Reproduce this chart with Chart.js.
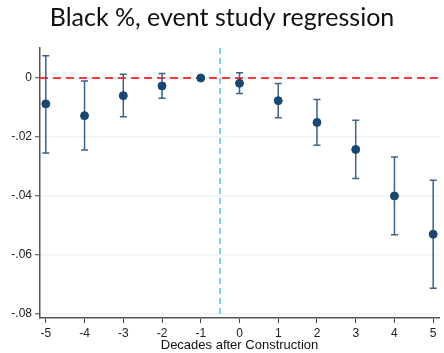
<!DOCTYPE html>
<html>
<head>
<meta charset="utf-8">
<script src="https://cdn.jsdelivr.net/npm/chart.js@4/dist/chart.umd.min.js"></script>
<style>
    html, body { margin: 0; padding: 0; background: #fff; }
    #wrap { width: 444px; height: 353px; }
</style>
</head>
<body>
<div id="wrap"><canvas id="grafico"></canvas></div>
<script>
// coeficientes por decada (decada -1 es la referencia)
let decadas = [-5, -4, -3, -2, -1, 0, 1, 2, 3, 4, 5]
let coef = [-0.0088, -0.0128, -0.0060, -0.0027, 0, -0.0018, -0.0077, -0.0151, -0.0243, -0.0401, -0.0531]
let ciBajo = [-0.0255, -0.0245, -0.0132, -0.0069, null, -0.0053, -0.0135, -0.0229, -0.0342, -0.0533, -0.0715]
let ciAlto = [0.0076, -0.0010, 0.0013, 0.0015, null, 0.0018, -0.0019, -0.0073, -0.0144, -0.0269, -0.0348]
let yTicks = [0, -0.02, -0.04, -0.06, -0.08]
let yTickLabels = ['0', '-.02', '-.04', '-.06', '-.08']
let lineaCero = 0
let lineaEvento = -0.5

// barras de error y lineas de referencia
const extras = {
    id: 'extras',
    beforeDatasetsDraw(chart) {
        const ctx = chart.ctx
        const x = chart.scales.x
        const y = chart.scales.y
        const area = chart.chartArea
        ctx.save()
        // linea horizontal en cero
        ctx.strokeStyle = '#ff3a3a'
        ctx.lineWidth = 2
        ctx.setLineDash([8, 5])
        let y0 = y.getPixelForValue(lineaCero)
        ctx.beginPath()
        ctx.moveTo(area.left, y0)
        ctx.lineTo(area.right, y0)
        ctx.stroke()
        // linea vertical de construccion
        ctx.strokeStyle = '#62b8e8'
        ctx.lineWidth = 1.5
        ctx.setLineDash([6, 4])
        let xe = x.getPixelForValue(lineaEvento)
        ctx.beginPath()
        ctx.moveTo(xe, area.top)
        ctx.lineTo(xe, area.bottom)
        ctx.stroke()
        // intervalos de confianza
        ctx.setLineDash([])
        ctx.strokeStyle = '#3d6188'
        ctx.lineWidth = 1.5
        for (let i = 0; i < decadas.length; i++) {
            if (ciBajo[i] === null) continue
            let px = x.getPixelForValue(decadas[i])
            let pLo = y.getPixelForValue(ciBajo[i])
            let pHi = y.getPixelForValue(ciAlto[i])
            ctx.beginPath()
            ctx.moveTo(px, pLo)
            ctx.lineTo(px, pHi)
            ctx.moveTo(px - 3.5, pLo)
            ctx.lineTo(px + 3.5, pLo)
            ctx.moveTo(px - 3.5, pHi)
            ctx.lineTo(px + 3.5, pHi)
            ctx.stroke()
        }
        ctx.restore()
    }
}

const fuenteEjes = { family: "'Liberation Sans', Arial, sans-serif", size: 12 }

var grafico = new Chart(document.getElementById('grafico'), {
    type: 'scatter',
    data: {
        datasets: [{
            label: 'Coeficiente',
            data: decadas.map((d, i) => ({ x: d, y: coef[i] })),
            backgroundColor: '#1a476f',
            borderColor: '#1a476f',
            pointRadius: 4,
            pointHoverRadius: 4
        }]
    },
    options: {
        responsive: true,
        maintainAspectRatio: false,
        animation: false,
        layout: { padding: 0 },
        plugins: {
            legend: { display: false },
            tooltip: { enabled: false },
            title: {
                display: true,
                text: 'Black %, event study regression',
                color: '#111',
                font: { family: "Lato, 'DejaVu Sans', sans-serif", size: 25, weight: 'normal', lineHeight: 1.2 },
                padding: { top: 3, bottom: 15 }
            }
        },
        scales: {
            x: {
                type: 'linear',
                min: -5.15,
                max: 5.15,
                afterBuildTicks: axis => { axis.ticks = decadas.map(v => ({ value: v })) },
                afterFit: axis => { axis.height = 35 },
                ticks: { color: '#222', font: fuenteEjes, padding: 3, maxRotation: 0 },
                grid: { drawOnChartArea: false, tickLength: 5, tickColor: '#444', tickWidth: 1 },
                border: { color: '#555', width: 1.5 },
                title: {
                    display: true,
                    text: 'Decades after Construction',
                    color: '#111',
                    font: { family: "'Liberation Sans', Arial, sans-serif", size: 13 },
                    padding: { top: 0, bottom: 0 }
                }
            },
            y: {
                min: -0.0816,
                max: 0.0102,
                afterBuildTicks: axis => { axis.ticks = yTicks.map(v => ({ value: v })) },
                afterFit: axis => { axis.width = 40 },
                ticks: {
                    color: '#222',
                    font: fuenteEjes,
                    padding: 3,
                    callback: (v) => yTickLabels[yTicks.findIndex(t => Math.abs(t - v) < 1e-9)]
                },
                grid: { color: '#eef3f3', lineWidth: 1.5, tickLength: 5, tickColor: '#444', tickWidth: 1 },
                border: { color: '#555', width: 1.5 }
            }
        }
    },
    plugins: [extras]
})
</script>
</body>
</html>
